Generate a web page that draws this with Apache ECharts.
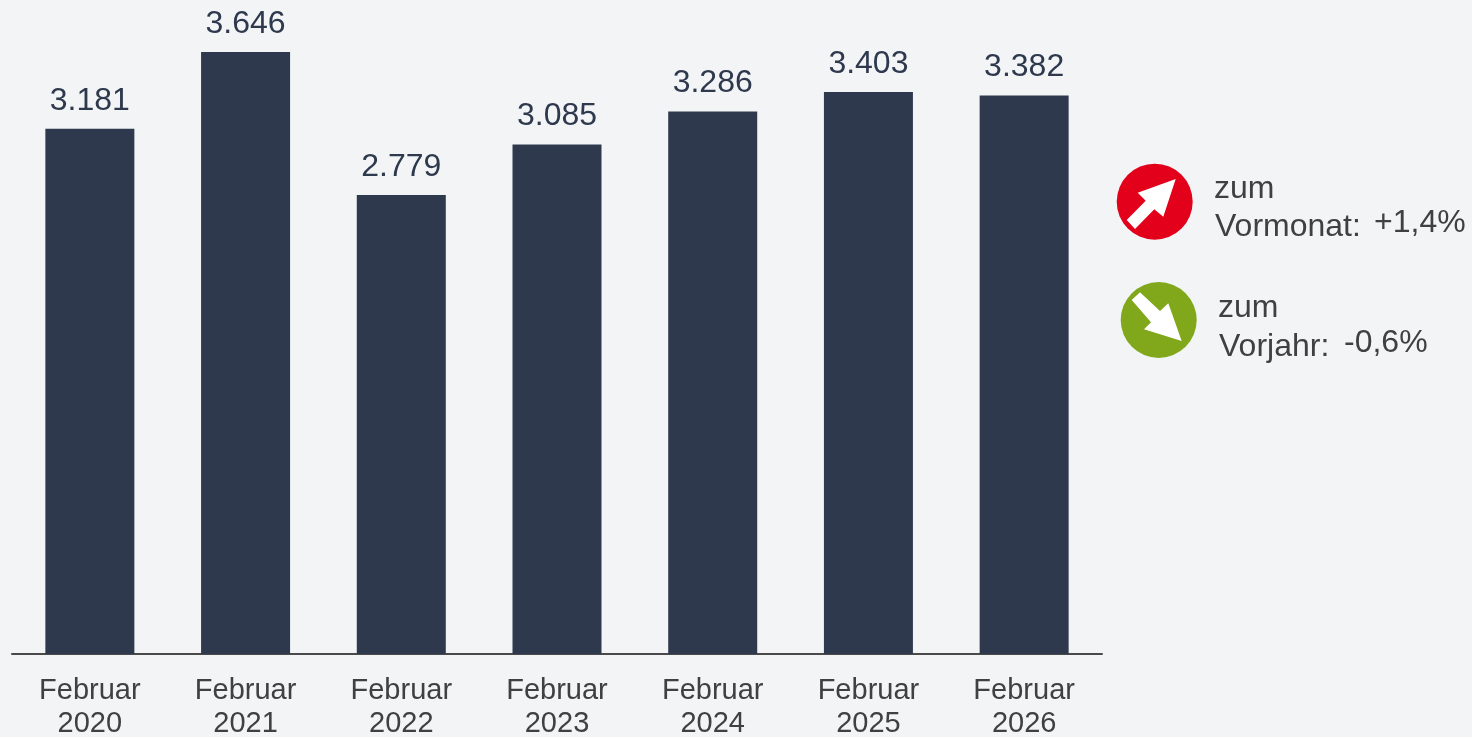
<!DOCTYPE html>
<html><head><meta charset="utf-8">
<style>html,body{margin:0;padding:0;background:#f2f4f6}#c{width:1472px;height:737px}</style>
<script src="https://cdn.jsdelivr.net/npm/echarts@6/dist/echarts.min.js"></script>
</head><body><div id="c"></div>
<script>
const categories = ['Februar\n2020','Februar\n2021','Februar\n2022','Februar\n2023','Februar\n2024','Februar\n2025','Februar\n2026'];
const values = [3181,3646,2779,3085,3286,3403,3382];
const valueLabels = ['3.181','3.646','2.779','3.085','3.286','3.403','3.382'];
const font = '"Liberation Sans", Arial, sans-serif';
const txt = (x,y,text,size)=>({type:'text',left:x,top:y,style:{text,fill:'#404040',font:size+'px '+font}});
const chart = echarts.init(document.getElementById('c'),null,{renderer:'canvas'});
chart.setOption({
  animation:false,
  backgroundColor:'#f2f4f6',
  grid:{left:12,top:10,width:1090,height:644,containLabel:false,outerBoundsMode:'none'},
  xAxis:{type:'category',data:categories,
    axisLine:{lineStyle:{color:'#4a4a4a',width:2}},axisTick:{show:false},
    axisLabel:{color:'#404040',fontFamily:font,fontSize:29,lineHeight:33,margin:20,interval:0}},
  yAxis:{type:'value',min:0,max:3900,show:false,splitLine:{show:false}},
  series:[{type:'bar',data:values,barWidth:89,itemStyle:{color:'#2f394e'},
    label:{show:true,position:'top',distance:12,color:'#2f394e',fontFamily:font,fontSize:32,
      formatter:p=>valueLabels[p.dataIndex]}}],
  graphic:[
    {type:'circle',shape:{cx:1154.7,cy:201.7,r:38},style:{fill:'#e2001a'}},
    {type:'polygon',shape:{points:[[1175.7,179],[1137.7,192.7],[1145.7,200.7],[1126.7,220],[1135,229],[1154.3,209.3],[1163.3,216.7]]},style:{fill:'#fff'}},
    {type:'circle',shape:{cx:1158.7,cy:320,r:38},style:{fill:'#80a81a'}},
    {type:'polygon',shape:{points:[[1181.7,341],[1144,329.3],[1151,322.3],[1131.7,300],[1140,292.3],[1160,311],[1168.3,303.3]]},style:{fill:'#fff'}},
    txt(1214,173,'zum',32),txt(1215,211,'Vormonat:',32),txt(1374,207,'+1,4%',32),
    txt(1218,292,'zum',32),txt(1219,331,'Vorjahr:',32),txt(1344,327,'-0,6%',32)
  ]
});
</script></body></html>
